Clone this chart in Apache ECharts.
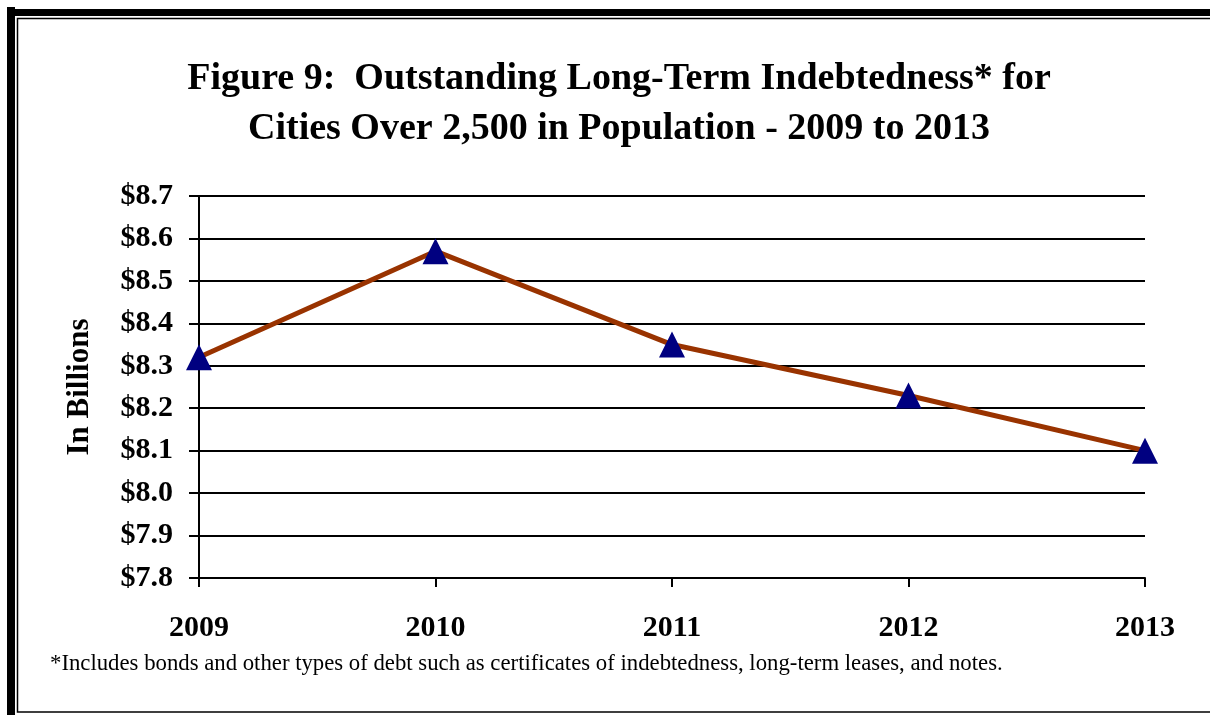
<!DOCTYPE html>
<html>
<head>
<meta charset="utf-8">
<script src="https://cdn.jsdelivr.net/npm/echarts@6/dist/echarts.min.js"></script>
<style>
html,body{margin:0;padding:0;background:#fff;}
#chart{width:1210px;height:715px;}
</style>
</head>
<body>
<div id="chart"></div>
<script>
var years = ['2009', '2010', '2011', '2012', '2013'];
var debtBillions = [8.32, 8.57, 8.35, 8.23, 8.10];
var titleLines = ['Figure 9:  Outstanding Long-Term Indebtedness* for', 'Cities Over 2,500 in Population - 2009 to 2013'];
var yAxisName = 'In Billions';
var footnote = '*Includes bonds and other types of debt such as certificates of indebtedness, long-term leases, and notes.';

var chart = echarts.init(document.getElementById('chart'), null, {renderer: 'canvas'});
var serif = '"Liberation Serif", "Times New Roman", serif';

var titleStyle = {
  fontFamily: serif,
  fontWeight: 'bold',
  fontSize: 38,
  lineHeight: 50,
  color: '#000'
};

chart.setOption({
  animation: false,
  backgroundColor: '#ffffff',
  title: titleLines.map(function (t, i) {
    return {text: t, left: 614, top: 49 + i * 50, textAlign: 'center', textStyle: titleStyle};
  }),
  grid: {left: 199, right: 65, top: 196, bottom: 137, containLabel: false},
  xAxis: {
    type: 'category',
    data: years,
    boundaryGap: false,
    axisLine: {lineStyle: {color: '#000', width: 2}},
    axisTick: {show: true, length: 9, lineStyle: {color: '#000', width: 2}},
    axisLabel: {
      margin: 35,
      fontFamily: serif,
      fontWeight: 'bold',
      fontSize: 30,
      color: '#000'
    },
    splitLine: {show: false}
  },
  yAxis: {
    type: 'value',
    min: 7.8,
    max: 8.7,
    interval: 0.1,
    name: yAxisName,
    nameLocation: 'middle',
    nameRotate: 90,
    nameGap: 104,
    nameTextStyle: {
      fontFamily: serif,
      fontWeight: 'bold',
      fontSize: 31,
      color: '#000'
    },
    axisLine: {show: true, lineStyle: {color: '#000', width: 2}},
    axisTick: {show: true, length: 10, lineStyle: {color: '#000', width: 2}},
    axisLabel: {
      margin: 26,
      fontFamily: serif,
      fontWeight: 'bold',
      fontSize: 30,
      color: '#000',
      formatter: function (v) { return '$' + v.toFixed(1); }
    },
    splitLine: {show: true, lineStyle: {color: '#000', width: 2}}
  },
  series: [{
    type: 'line',
    data: debtBillions,
    lineStyle: {color: '#993300', width: 5},
    symbol: 'triangle',
    symbolSize: [26, 26],
    itemStyle: {color: '#000080', borderWidth: 0},
    z: 5
  }],
  graphic: [
    {type: 'rect', shape: {x: 7, y: 7, width: 8, height: 710}, style: {fill: '#000'}, silent: true},
    {type: 'rect', shape: {x: 7, y: 9, width: 1210, height: 7}, style: {fill: '#000'}, silent: true},
    {type: 'polyline', shape: {points: [[1212, 18.5], [17.5, 18.5], [17.5, 712], [1212, 712]]}, style: {stroke: '#000', lineWidth: 1.5, fill: null}, silent: true},
    {type: 'text', left: 50, top: 653, style: {text: footnote, font: '22.75px ' + serif, fill: '#000'}, silent: true}
  ]
});
</script>
</body>
</html>
